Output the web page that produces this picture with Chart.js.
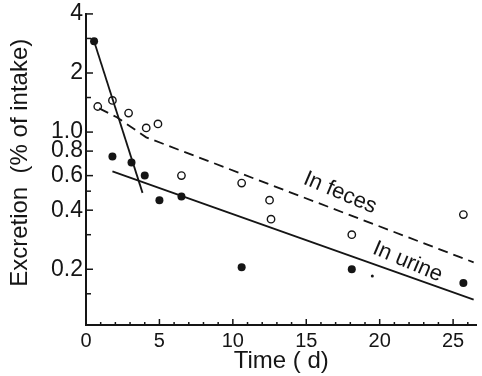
<!DOCTYPE html>
<html>
<head>
<meta charset="utf-8">
<script src="https://cdn.jsdelivr.net/npm/chart.js@4/dist/chart.umd.min.js"></script>
<style>
  html, body { margin: 0; padding: 0; background: #ffffff; }
  #wrap { width: 482px; height: 376px; }
</style>
</head>
<body>
<div id="wrap"><canvas id="c" width="482" height="376"></canvas></div>
<script>
// ---- data ----
const urineDays   = [0.55, 1.8, 3.1, 4.0, 5.0, 6.5, 10.6, 18.1, 19.5, 25.7];
const urineValues = [2.9, 0.75, 0.70, 0.60, 0.45, 0.47, 0.205, 0.20, 0.185, 0.17];
const urineRadius = [4, 4, 4, 4, 4, 4, 4, 4, 1.5, 4];

const fecesDays   = [0.8, 1.8, 2.9, 4.1, 4.9, 6.5, 10.6, 12.5, 12.6, 18.1, 25.7];
const fecesValues = [1.35, 1.45, 1.25, 1.05, 1.1, 0.60, 0.55, 0.45, 0.36, 0.30, 0.38];

const urineFastLineDays   = [0.55, 3.85];
const urineFastLineValues = [2.9, 0.49];
const urineSlowLineDays   = [1.8, 26.4];
const urineSlowLineValues = [0.63, 0.14];
const fecesLineDays   = [0.9, 2.1, 4.1, 26.4];
const fecesLineValues = [1.32, 1.19, 0.94, 0.217];

const xTickValues = [0, 5, 10, 15, 20, 25];
const xMinorTickValues = [1,2,3,4,6,7,8,9,11,12,13,14,16,17,18,19,21,22,23,24,26];
const yTickValues = [0.15, 0.2, 0.3, 0.4, 0.5, 0.6, 0.8, 1.0, 1.5, 2, 3, 4];
const yTickLabels = ['', '0.2', '', '0.4', '', '0.6', '0.8', '1.0', '', '2', '', '4'];

const labelTexts  = ['In feces', 'In urine'];
const labelDays   = [17.3, 21.9];
const labelValues = [0.49, 0.218];

const xTitle = 'Time ( d)';
const yTitle = '  Excretion  (% of intake)';

// ---- helpers ----
const pts = (xs, ys) => xs.map((x, i) => ({ x: x, y: ys[i] }));
const INK = '#151515';
const NARROW = "'Liberation Sans Narrow', 'Liberation Sans', Arial, sans-serif";
const REG = "'Liberation Sans', Arial, sans-serif";

const decorPlugin = {
  id: 'decor',
  afterDraw(chart) {
    const ctx = chart.ctx;
    const xs = chart.scales.x, ys = chart.scales.y;
    const a = chart.chartArea;
    ctx.save();
    ctx.strokeStyle = INK;
    ctx.lineWidth = 1.5;
    // inward y ticks
    yTickValues.forEach((v, i) => {
      const py = ys.getPixelForValue(v);
      const len = yTickLabels[i] ? 7 : 5;
      ctx.beginPath(); ctx.moveTo(a.left, py); ctx.lineTo(a.left + len, py); ctx.stroke();
    });
    // inward x ticks
    xTickValues.forEach(v => {
      const px = xs.getPixelForValue(v);
      ctx.beginPath(); ctx.moveTo(px, a.bottom); ctx.lineTo(px, a.bottom - 6); ctx.stroke();
    });
    xMinorTickValues.forEach(v => {
      const px = xs.getPixelForValue(v);
      ctx.beginPath(); ctx.moveTo(px, a.bottom); ctx.lineTo(px, a.bottom - 3); ctx.stroke();
    });
    // line labels
    ctx.fillStyle = INK;
    ctx.font = "22px " + REG;
    ctx.textAlign = 'center';
    ctx.textBaseline = 'middle';
    labelTexts.forEach((t, i) => {
      ctx.save();
      ctx.translate(xs.getPixelForValue(labelDays[i]), ys.getPixelForValue(labelValues[i]));
      ctx.rotate(23 * Math.PI / 180);
      ctx.fillText(t, 0, 0);
      ctx.restore();
    });
    ctx.restore();
  }
};

new Chart(document.getElementById('c'), {
  type: 'scatter',
  data: {
    datasets: [
      { label: 'urine fast fit', data: pts(urineFastLineDays, urineFastLineValues), showLine: true,
        borderColor: INK, borderWidth: 1.8, pointRadius: 0, fill: false },
      { label: 'urine slow fit', data: pts(urineSlowLineDays, urineSlowLineValues), showLine: true,
        borderColor: INK, borderWidth: 1.8, pointRadius: 0, fill: false },
      { label: 'feces fit', data: pts(fecesLineDays, fecesLineValues), showLine: true,
        borderColor: INK, borderWidth: 1.8, borderDash: [10, 6], pointRadius: 0, fill: false },
      { label: 'In urine', data: pts(urineDays, urineValues), showLine: false,
        pointRadius: urineRadius, pointBackgroundColor: INK, pointBorderColor: INK, pointBorderWidth: 0 },
      { label: 'In feces', data: pts(fecesDays, fecesValues), showLine: false,
        pointRadius: 3.7, pointBackgroundColor: '#ffffff', pointBorderColor: INK, pointBorderWidth: 1.4 }
    ]
  },
  options: {
    responsive: false,
    animation: false,
    events: [],
    layout: { padding: { left: 6, right: 5, top: 0, bottom: 0 } },
    plugins: { legend: { display: false }, tooltip: { enabled: false } },
    scales: {
      x: {
        type: 'linear', min: 0, max: 26.6,
        afterBuildTicks: s => { s.ticks = xTickValues.map(v => ({ value: v })); },
        afterFit: s => { s.height = 51; },
        grid: { display: true, drawOnChartArea: false, drawTicks: false },
        border: { display: true, color: INK, width: 2 },
        ticks: { color: INK, font: { family: NARROW, size: 20 }, padding: 4, maxRotation: 0, autoSkip: false },
        title: { display: true, text: xTitle, color: INK, font: { family: NARROW, size: 24 }, padding: { top: 0, bottom: 0 } }
      },
      y: {
        type: 'logarithmic', min: 0.104, max: 4,
        afterBuildTicks: s => { s.ticks = yTickValues.map(v => ({ value: v })); },
        afterFit: s => { s.width = 80; },
        grid: { display: true, drawOnChartArea: false, drawTicks: false },
        border: { display: true, color: INK, width: 2 },
        ticks: { color: INK, font: { family: NARROW, size: 23, lineHeight: 0.95 }, padding: 3, autoSkip: false,
          callback: (v, i) => yTickLabels[i] },
        title: { display: true, text: yTitle, color: INK, font: { family: REG, size: 24 }, padding: { top: 0, bottom: 4 } }
      }
    }
  },
  plugins: [decorPlugin]
});
</script>
</body>
</html>
